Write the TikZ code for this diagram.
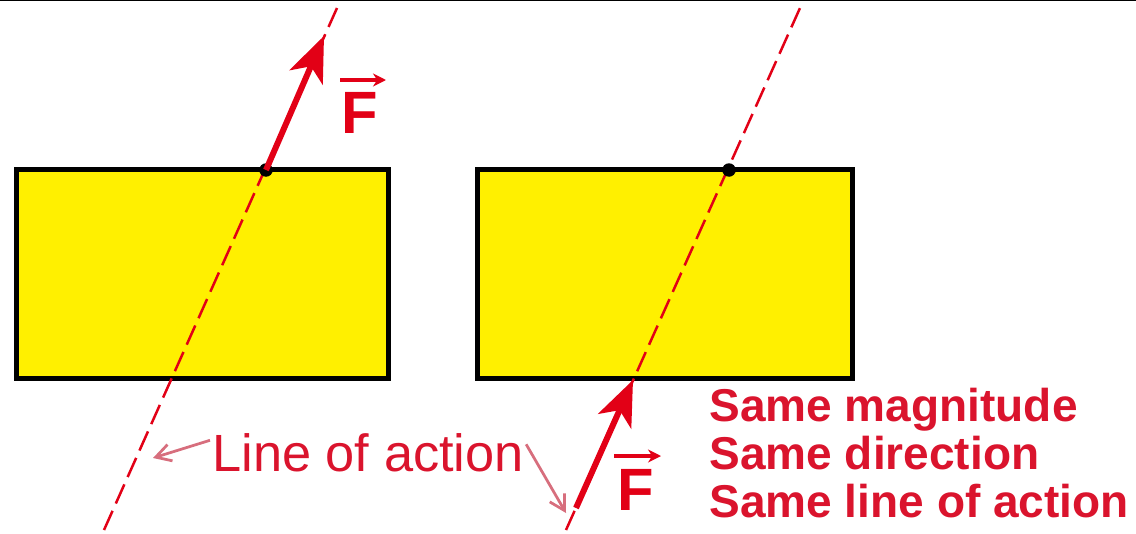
\documentclass[tikz,border=0pt]{standalone}
\usepackage{fontspec}
\setmainfont{Liberation Sans}
\usetikzlibrary{arrows.meta}
\definecolor{fred}{RGB}{226,0,22}
\definecolor{tred}{RGB}{218,20,45}
\definecolor{pinkline}{RGB}{215,110,125}
\definecolor{byellow}{RGB}{255,240,0}
\tikzset{
  body/.style={draw=black, line width=0.095cm, fill=byellow},
  actionline/.style={draw=fred, line width=0.05cm, dash pattern=on 0.42cm off 0.16cm},
  force/.style={draw=fred, line width=0.12cm, -{Stealth[length=0.9cm, width=0.72cm, inset=0.24cm]}},
  pt/.style={circle, fill=black, inner sep=0pt, minimum size=0.27cm},
  flabel/.style={text=fred, font=\fontsize{34}{34}\bfseries\selectfont, inner sep=0pt, anchor=base},
  vecarrow/.style={draw=fred, line width=0.08cm, -{Stealth[length=0.26cm, width=0.26cm]}},
  loa/.style={text=tred, font=\fontsize{29.8}{30}\selectfont, inner sep=0pt, anchor=base west},
  same/.style={text=tred, font=\fontsize{26.2}{26}\bfseries\selectfont, inner sep=0pt, anchor=base west},
  pointer/.style={draw=pinkline, line width=0.055cm, -{Straight Barb[length=0.3cm, width=0.34cm]}}
}
\begin{document}
\begin{tikzpicture}[x=0.02cm, y=-0.02cm]
\useasboundingbox (0,0) rectangle (1136,534);
\draw[black, line width=0.03cm] (0,0.5) -- (1136,0.5);
% bodies
\path[body] (16.5,169.5) rectangle (388.5,378.5);
\path[body] (477.5,169.5) rectangle (852.5,378.5);
% lines of action
\coordinate (la) at (104,530);
\coordinate (lb) at (337,8);
\draw[actionline] (la) -- (lb);
\coordinate (ra) at (566,530);
\coordinate (rb) at (800,8);
\draw[actionline] (ra) -- (rb);
% application points
\node[pt] (p1) at (266,170) {};
\node[pt] (p2) at (729,170) {};
% forces
\coordinate (t1) at (324,36);
\draw[force] (p1.center) -- (t1);
\coordinate (s2) at (576,508);
\coordinate (t2) at (633,380);
\draw[force] (s2) -- (t2);
% F labels
\node[flabel] (F1) at (360,133) {F};
\draw[vecarrow] (340,80) -- (386,80);
\node[flabel] (F2) at (636,510) {F};
\draw[vecarrow] (614,456) -- (661,456);
% line of action text
\node[loa] (loa) at (212,471) {Line of action};
\coordinate (c1) at (153,458);
\coordinate (c2) at (566,513);
\draw[pointer] (loa.west) ++(-2,-12) -- (c1);
\draw[pointer] (loa.east) ++(2,-8) -- (c2);
% property text
\node[same] (s1) at (709,421) {Same magnitude};
\node[same] (s2t) at (709,469) {Same direction};
\node[same] (s3) at (709,517) {Same line of action};
\end{tikzpicture}
\end{document}
